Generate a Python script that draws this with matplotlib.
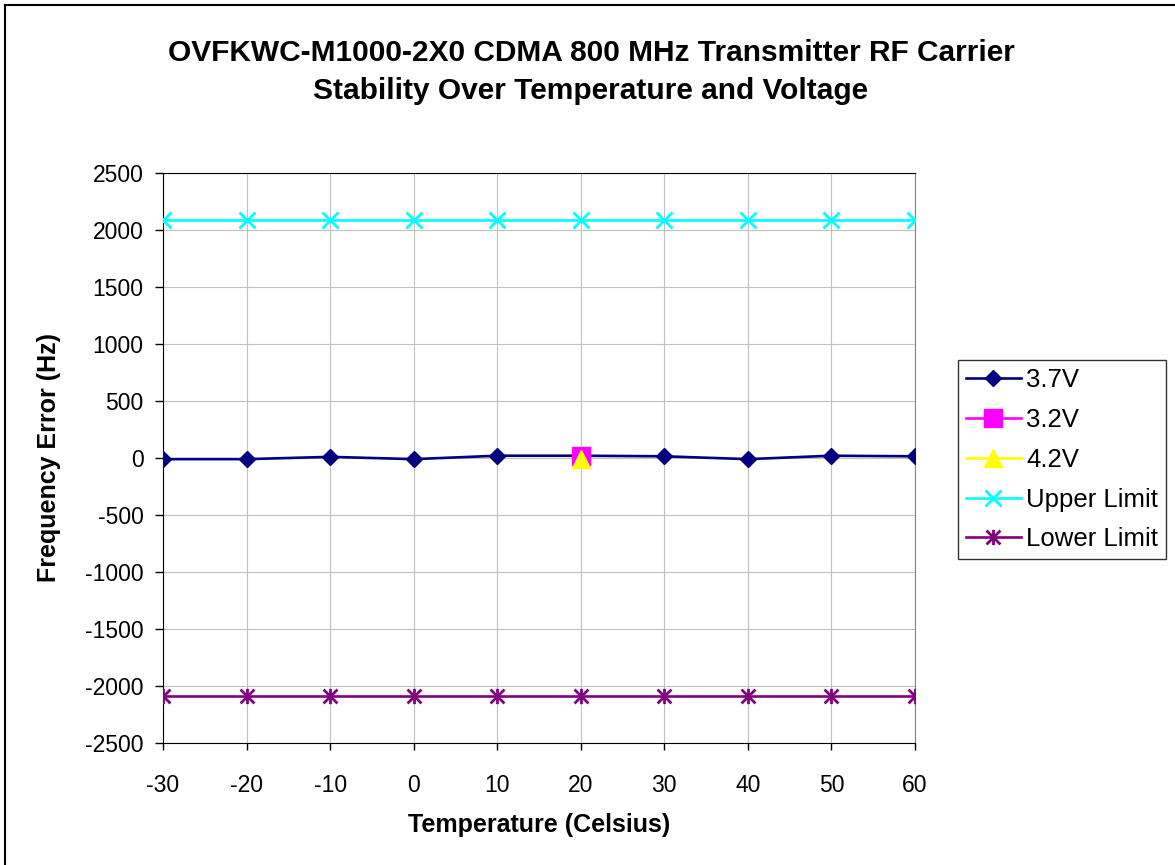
import matplotlib
matplotlib.use('Agg')
import matplotlib.pyplot as plt
from matplotlib.lines import Line2D
from matplotlib.path import Path

plt.rcParams['font.family'] = ['Liberation Sans', 'DejaVu Sans']
plt.rcParams['axes.unicode_minus'] = False

# data
temps = [-30, -20, -10, 0, 10, 20, 30, 40, 50, 60]
v37 = [-10, -10, 10, -10, 20, 20, 15, -10, 20, 15]
v32_temps = [20]
v32 = [15]
v42_temps = [20]
v42 = [-10]
upper = [2091, 2091, 2091, 2091, 2091, 2091, 2091, 2091, 2091, 2091]
lower = [-2091, -2091, -2091, -2091, -2091, -2091, -2091, -2091, -2091, -2091]
yticks = [2500, 2000, 1500, 1000, 500, 0, -500, -1000, -1500, -2000, -2500]

# excel-like star marker: an X with a vertical bar through it
star = Path([(-1, -1), (1, 1), (-1, 1), (1, -1), (0, -1.1), (0, 1.1)],
            [Path.MOVETO, Path.LINETO, Path.MOVETO, Path.LINETO, Path.MOVETO, Path.LINETO])

fig = plt.figure(figsize=(11.75, 8.65), dpi=100)
ax = fig.add_axes([163 / 1175, 1 - 743 / 865, 752 / 1175, 570 / 865])

ax.plot(temps, v37, color='#000080', lw=1.9, marker='D', ms=8, label='3.7V', zorder=3)
ax.plot(v32_temps, v32, color='#ff00ff', lw=1.9, marker='s', ms=13, label='3.2V', zorder=4)
ax.plot(v42_temps, v42, color='#ffff00', lw=1.9, marker='^', ms=13, label='4.2V', zorder=5)
ax.plot(temps, upper, color='#00ffff', lw=1.9, marker='x', ms=11, mew=2, label='Upper Limit', zorder=3)
ax.plot(temps, lower, color='#800080', lw=1.9, marker=star, ms=11, mew=2, label='Lower Limit', zorder=3)

ax.set_xlim(-30, 60)
ax.set_ylim(-2500, 2500)
ax.set_xticks(temps)
ax.set_yticks(yticks)
ax.grid(True, color='#c0c0c0', lw=0.8)
ax.set_axisbelow(True)
ax.tick_params(axis='y', direction='out', length=6, width=1, pad=8, labelsize=16.5)
ax.tick_params(axis='x', direction='out', length=5, width=1, pad=17, labelsize=16.5)
ax.spines['left'].set_color('black')
ax.spines['bottom'].set_color('black')
ax.spines['top'].set_color('black')
ax.spines['right'].set_color('#808080')

ax.set_xlabel('Temperature (Celsius)', fontsize=18, fontweight='bold')
ax.set_ylabel('Frequency Error (Hz)', fontsize=18, fontweight='bold')
ax.xaxis.set_label_coords(0.5, -0.123)
ax.yaxis.set_label_coords(-0.135, 0.5)

fig.text(591 / 1175, 1 - 53 / 865, 'OVFKWC-M1000-2X0 CDMA 800 MHz Transmitter RF Carrier',
         ha='center', va='center', fontsize=21.5, fontweight='bold')
fig.text(591 / 1175, 1 - 91 / 865, 'Stability Over Temperature and Voltage',
         ha='center', va='center', fontsize=21.5, fontweight='bold')

leg = fig.legend(loc='upper left', bbox_to_anchor=(958 / 1175, 1 - 360 / 865),
                 fontsize=18.5, frameon=True, fancybox=False, shadow=False,
                 handlelength=2.15, handletextpad=0.2, borderpad=0.3,
                 labelspacing=0.62, borderaxespad=0)
leg.get_frame().set_edgecolor('black')
leg.get_frame().set_linewidth(1)

# chart area border (left and top visible)
fig.add_artist(Line2D([5 / 1175, 5 / 1175], [0, 1 - 5 / 865], color='black', lw=1.5))
fig.add_artist(Line2D([5 / 1175, 1], [1 - 5 / 865, 1 - 5 / 865], color='black', lw=1.5))

fig.savefig('out.png', dpi=100)
